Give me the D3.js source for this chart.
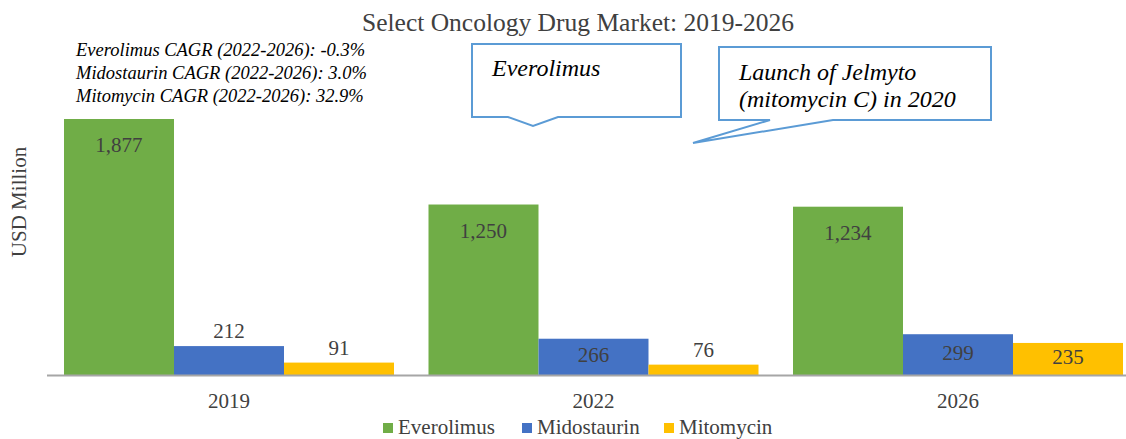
<!DOCTYPE html>
<html>
<head>
<meta charset="utf-8">
<script src="https://cdn.jsdelivr.net/npm/d3@7"></script>
<style>
  html, body { margin: 0; padding: 0; background: #fff; }
  svg { display: block; font-family: "Liberation Serif", "Times New Roman", serif; }
</style>
</head>
<body>
<svg id="chart" width="1126" height="439"></svg>
<script>
// Market size by year, USD million
const years = ["2019", "2022", "2026"];
const series = ["Everolimus", "Midostaurin", "Mitomycin"];
const everolimus = [1877, 1250, 1234];
const midostaurin = [212, 266, 299];
const mitomycin = [91, 76, 235];
const colors = ["#70AD47", "#4472C4", "#FFC000"];
const cagrNotes = [
  "Everolimus CAGR (2022-2026): -0.3%",
  "Midostaurin CAGR (2022-2026): 3.0%",
  "Mitomycin CAGR (2022-2026): 32.9%"
];
const title = "Select Oncology Drug Market: 2019-2026";
const yTitle = "USD Million";

const values = [everolimus, midostaurin, mitomycin];
const rows = years.map((y, i) => ({ year: y, vals: series.map((s, j) => ({ key: s, idx: j, v: values[j][i] })) }));

const svg = d3.select("#chart");
const W = 1126, H = 439;
const baseY = 375;

const x0 = d3.scaleBand().domain(years).range([46.75, 1140.25]).paddingInner(0.09465).paddingOuter(0.09465 / 2);
const x1 = d3.scaleBand().domain(series).range([0, x0.bandwidth()]);
const y = d3.scaleLinear().domain([0, 1877]).range([baseY, 119]);
const fmt = d3.format(",");
const textCol = "#404040";

// Title
svg.append("text").attr("x", 578).attr("y", 31).attr("text-anchor", "middle")
  .attr("font-size", 25.5).attr("fill", textCol).text(title);

// CAGR notes
svg.append("g").selectAll("text").data(cagrNotes).join("text")
  .attr("x", 76).attr("y", (d, i) => 56 + i * 23)
  .attr("font-size", 18.5).attr("font-style", "italic").attr("fill", "#000").text(d => d);

// Y axis title
svg.append("text").attr("transform", "translate(26,202) rotate(-90)").attr("text-anchor", "middle")
  .attr("font-size", 21).attr("fill", textCol).text(yTitle);

// Bars
const groups = svg.append("g").selectAll("g").data(rows).join("g")
  .attr("transform", d => `translate(${x0(d.year)},0)`);

groups.selectAll("rect").data(d => d.vals).join("rect")
  .attr("x", d => x1(d.key)).attr("width", x1.bandwidth())
  .attr("y", d => y(d.v)).attr("height", d => baseY - y(d.v))
  .attr("fill", d => colors[d.idx]);

// Data labels: inside the bar when there is room, otherwise just above it
groups.selectAll("text").data(d => d.vals).join("text")
  .attr("x", d => x1(d.key) + x1.bandwidth() / 2)
  .attr("y", d => {
    const top = y(d.v), h = baseY - top;
    let cy;
    if (h >= 100) cy = top + 26;
    else if (h >= 32) cy = Math.min(top + 26, (top + baseY) / 2 - 2);
    else cy = top - 15;
    return cy + 7;
  })
  .attr("text-anchor", "middle").attr("font-size", 21).attr("fill", textCol)
  .text(d => fmt(d.v));

// Category axis
svg.append("line").attr("x1", 47).attr("x2", W).attr("y1", baseY + 0.5).attr("y2", baseY + 0.5)
  .attr("stroke", "#A6A6A6").attr("stroke-width", 2);
svg.append("g").selectAll("text").data(years).join("text")
  .attr("x", d => x0(d) + x0.bandwidth() / 2).attr("y", 408)
  .attr("text-anchor", "middle").attr("font-size", 21).attr("fill", textCol).text(d => d);

// Callouts
const callColor = "#5B9BD5";
svg.append("path")
  .attr("d", "M472,44 H681 V117 H558 L533,126 L508,117 H472 Z")
  .attr("fill", "#fff").attr("stroke", callColor).attr("stroke-width", 2);
svg.append("text").attr("x", 492).attr("y", 76).attr("font-size", 24).attr("font-style", "italic")
  .attr("fill", "#000").text("Everolimus");

svg.append("path")
  .attr("d", "M719,47 H991 V120 H833 L693,143 L770,120 H719 Z")
  .attr("fill", "#fff").attr("stroke", callColor).attr("stroke-width", 2);
svg.append("text").attr("x", 739).attr("y", 80).attr("font-size", 24).attr("font-style", "italic")
  .attr("fill", "#000").text("Launch of Jelmyto");
svg.append("text").attr("x", 739).attr("y", 107).attr("font-size", 24).attr("font-style", "italic")
  .attr("fill", "#000").text("(mitomycin C) in 2020");

// Legend
const legendX = [383, 522, 664];
const lg = svg.append("g").selectAll("g").data(series).join("g")
  .attr("transform", (d, i) => `translate(${legendX[i]},0)`);
lg.append("rect").attr("x", 0).attr("y", 423).attr("width", 10).attr("height", 10)
  .attr("fill", (d, i) => colors[i]);
lg.append("text").attr("x", 15).attr("y", 434).attr("font-size", 21).attr("fill", textCol).text(d => d);
</script>
</body>
</html>
